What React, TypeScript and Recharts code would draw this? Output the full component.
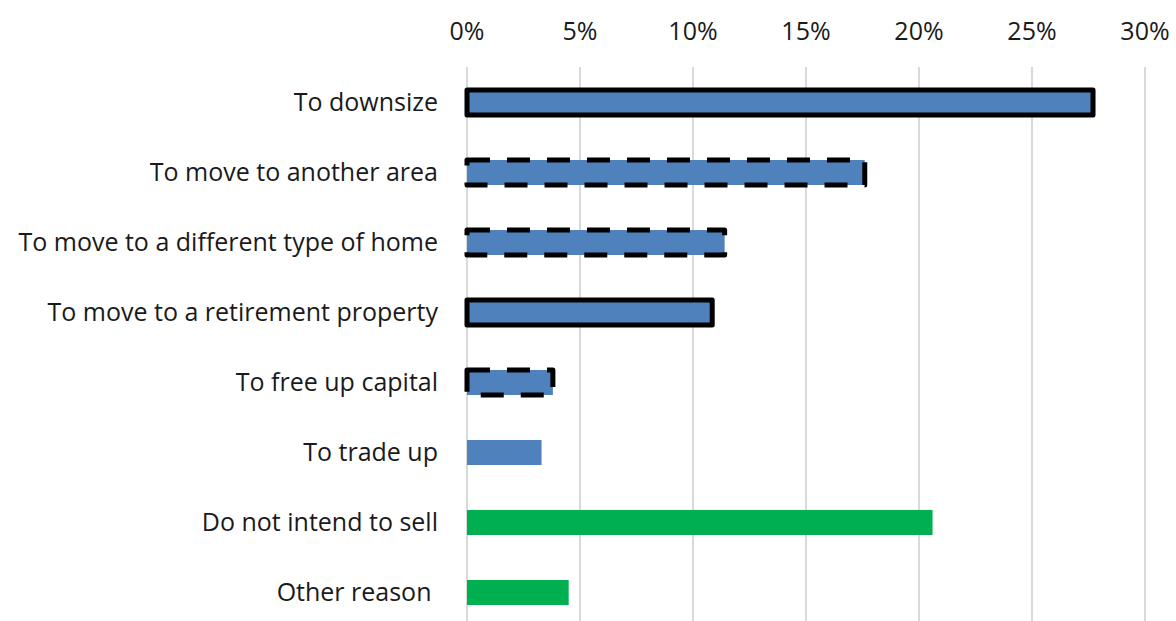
import React from 'react';
import { BarChart, Bar, XAxis, YAxis, CartesianGrid, Cell } from 'recharts';

// categories, top to bottom (the source label carries a trailing space)
const reasons = [
    'To downsize',
    'To move to another area',
    'To move to a different type of home',
    'To move to a retirement property',
    'To free up capital',
    'To trade up',
    'Do not intend to sell',
    'Other reason\u00a0',
];

// share of respondents, %
const shares = [27.7, 17.6, 11.4, 10.85, 3.8, 3.3, 20.6, 4.5];

const percentTicks = [0, 5, 10, 15, 20, 25, 30];

// styling kept apart from the data
const BLUE = '#4F81BD';
const GREEN = '#00B050';
const greenRows = ['Do not intend to sell', 'Other reason\u00a0'];
const solidOutline = ['To downsize', 'To move to a retirement property'];
const dashedOutline = ['To move to another area', 'To move to a different type of home', 'To free up capital'];

const rows = reasons.map((reason, i) => ({ reason, share: shares[i] }));

const FONT = '"Open Sans", "Noto Sans", sans-serif';

export default function App() {
    return (
        <div style={{ position: 'absolute', left: 0, top: 0, width: 1176, height: 621, overflow: 'hidden', background: '#fff' }}>
            <BarChart
                width={1176}
                height={627}
                data={rows}
                layout="vertical"
                margin={{ top: 0, right: 31, bottom: 0, left: 0 }}
                barSize={25}
            >
                <CartesianGrid horizontal={false} stroke="#d9d9d9" strokeWidth={2} />
                <XAxis
                    type="number"
                    orientation="top"
                    domain={[0, 30]}
                    ticks={percentTicks}
                    tickFormatter={(v) => `${v}%`}
                    height={67}
                    axisLine={false}
                    tickLine={false}
                    tickSize={0}
                    tickMargin={27}
                    tick={{ fill: '#1a1a1a', fontSize: 25, fontFamily: FONT }}
                />
                <YAxis
                    type="category"
                    dataKey="reason"
                    width={467}
                    axisLine={false}
                    tickLine={false}
                    tickSize={0}
                    tickMargin={29}
                    interval={0}
                    tick={{ fill: '#1a1a1a', fontSize: 25, fontFamily: FONT }}
                />
                <Bar dataKey="share" isAnimationActive={false}>
                    {rows.map((r) => {
                        const solid = solidOutline.includes(r.reason);
                        const dashed = dashedOutline.includes(r.reason);
                        return (
                            <Cell
                                key={r.reason}
                                fill={greenRows.includes(r.reason) ? GREEN : BLUE}
                                stroke={solid || dashed ? '#000' : 'none'}
                                strokeWidth={solid || dashed ? 5 : 0}
                                strokeDasharray={dashed ? '23 17' : undefined}
                                strokeLinejoin="round"
                            />
                        );
                    })}
                </Bar>
            </BarChart>
        </div>
    );
}
